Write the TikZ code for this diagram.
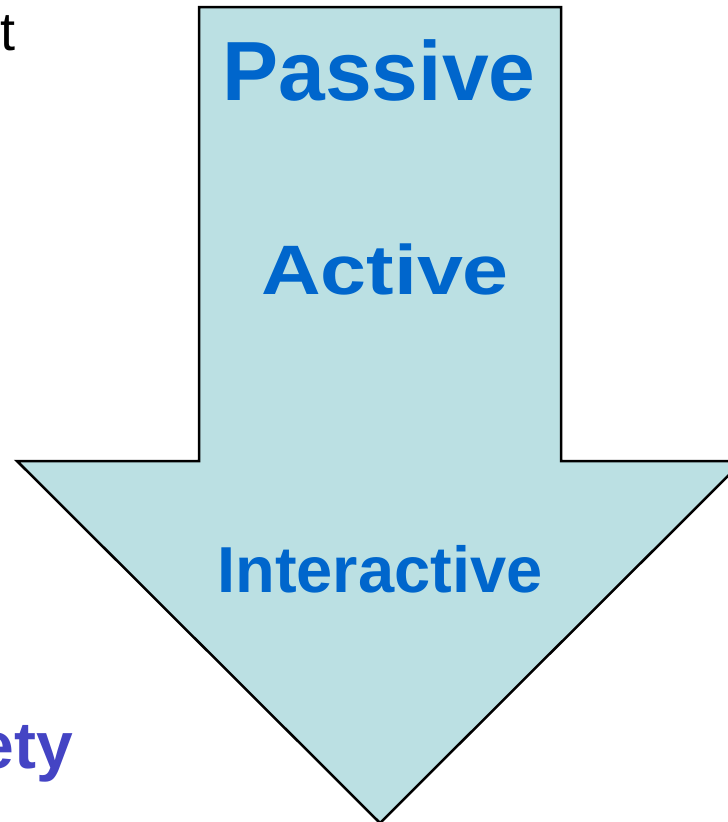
\documentclass[tikz,border=0pt]{standalone}
\usepackage{fontspec}
\setmainfont{Liberation Sans}
\usetikzlibrary{positioning}

\definecolor{arrowfill}{RGB}{187,224,227}
\definecolor{stageblue}{RGB}{0,102,204}
\definecolor{etyblue}{RGB}{68,68,196}

\begin{document}
\begin{tikzpicture}[x=1pt,y=-1pt,
  stage/.style={anchor=base,inner sep=0pt,text=stageblue,font=\bfseries\fontsize{#1}{#1}\selectfont},
  side/.style={anchor=base east,inner sep=0pt,font=\fontsize{#1}{#1}\selectfont},
  sidebold/.style={anchor=base east,inner sep=0pt,font=\bfseries\fontsize{#1}{#1}\selectfont},
  bigarrow/.style={draw=black,line width=2.5pt,fill=arrowfill,line join=miter}
]
  \useasboundingbox (0,0) rectangle (728,822);

  % downward arrow
  \draw[bigarrow] (199,7) -- (561,7) -- (561,461) -- (743,461)
    -- (380,823) -- (17,461) -- (199,461) -- cycle;

  \node[stage=84] (passive) at (379,100) {Passive};
  \node[stage=70,xscale=1.18] (active) at (385,294) {Active};
  \node[stage=65] (interactive) at (380,592) {Interactive};

  % cut-off words at the left edge
  \node[side=54] (wordend) at (16,50) {t};
  \node[sidebold=66,text=etyblue] (ety) at (73,768) {ety};
\end{tikzpicture}
\end{document}
